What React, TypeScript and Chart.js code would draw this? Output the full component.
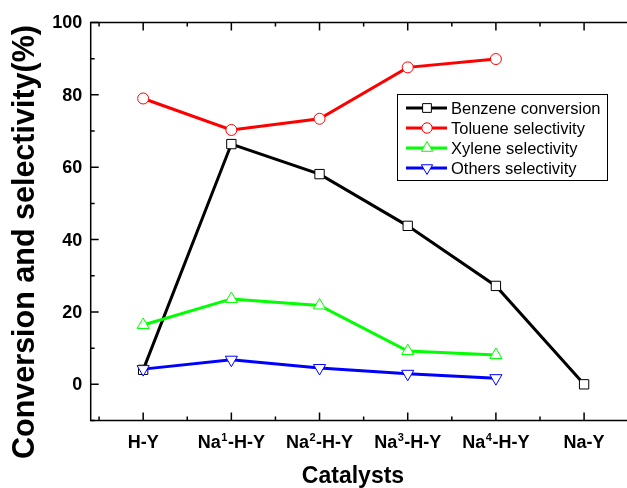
import React, { useEffect, useRef } from "react";
import { Chart, registerables } from "chart.js";
Chart.register(...registerables);

// ---- data ----
const categoryPositions = [1, 2, 3, 4, 5, 6];
const categoryBase = ["H-Y", "Na", "Na", "Na", "Na", "Na-Y"];
const categorySup = ["", "1", "2", "3", "4", ""];
const categoryRest = ["", "-H-Y", "-H-Y", "-H-Y", "-H-Y", ""];

const benzeneConversion = [4.0, 66.4, 58.1, 43.8, 27.2, 0];
const tolueneSelectivity = [79.0, 70.3, 73.4, 87.6, 89.9];
const xyleneSelectivity = [16.4, 23.6, 21.8, 9.2, 8.1];
const othersSelectivity = [4.2, 6.8, 4.5, 2.9, 1.7];

const yTicks = [0, 20, 40, 60, 80, 100];
const yMinorTicks = [-10, 10, 30, 50, 70, 90];
const xMinorTicks = [0.5, 1.5, 2.5, 3.5, 4.5, 5.5, 6.5];

const seriesNames = [
  "Benzene conversion",
  "Toluene selectivity",
  "Xylene selectivity",
  "Others selectivity",
];
const seriesColors = ["#000000", "#ff0000", "#00ff00", "#0000ff"];

const yTitle = "Conversion and selectivity(%)";
const xTitle = "Catalysts";

const FONT = '"Liberation Sans", Arial, sans-serif';

function toPoints(values: number[]) {
  return values.map((v, i) => ({ x: categoryPositions[i], y: v }));
}

function drawMarker(ctx: CanvasRenderingContext2D, kind: string, x: number, y: number, r: number, color: string) {
  ctx.save();
  ctx.beginPath();
  if (kind === "rect") {
    const s = Math.SQRT1_2 * r;
    ctx.rect(x - s, y - s, 2 * s, 2 * s);
  } else if (kind === "circle") {
    ctx.arc(x, y, r, 0, Math.PI * 2);
  } else if (kind === "tri" || kind === "triDown") {
    let rad = kind === "tri" ? 0 : Math.PI;
    ctx.moveTo(x + Math.sin(rad) * r, y - Math.cos(rad) * r);
    rad += (2 * Math.PI) / 3;
    ctx.lineTo(x + Math.sin(rad) * r, y - Math.cos(rad) * r);
    rad += (2 * Math.PI) / 3;
    ctx.lineTo(x + Math.sin(rad) * r, y - Math.cos(rad) * r);
    ctx.closePath();
  }
  ctx.fillStyle = "#ffffff";
  ctx.fill();
  ctx.lineWidth = 1;
  ctx.strokeStyle = color;
  ctx.stroke();
  ctx.restore();
}

const framePlugin = {
  id: "originFrame",
  beforeDatasetsDraw(chart: any) {
    const ctx: CanvasRenderingContext2D = chart.ctx;
    const { left, right, top, bottom } = chart.chartArea;
    const xs = chart.scales.x;
    const ys = chart.scales.y;
    ctx.save();
    ctx.strokeStyle = "#000";
    ctx.lineWidth = 1.5;
    ctx.strokeRect(left, top, right - left, bottom - top);

    ctx.beginPath();
    for (const v of yTicks) {
      const py = ys.getPixelForValue(v);
      ctx.moveTo(left, py);
      ctx.lineTo(left + 8, py);
      ctx.moveTo(right, py);
      ctx.lineTo(right - 8, py);
    }
    for (const v of yMinorTicks) {
      const py = ys.getPixelForValue(v);
      ctx.moveTo(left, py);
      ctx.lineTo(left + 4, py);
      ctx.moveTo(right, py);
      ctx.lineTo(right - 4, py);
    }
    for (const v of categoryPositions) {
      const px = xs.getPixelForValue(v);
      ctx.moveTo(px, bottom);
      ctx.lineTo(px, bottom - 8);
      ctx.moveTo(px, top);
      ctx.lineTo(px, top + 8);
    }
    for (const v of xMinorTicks) {
      const px = xs.getPixelForValue(v);
      ctx.moveTo(px, bottom);
      ctx.lineTo(px, bottom - 4);
      ctx.moveTo(px, top);
      ctx.lineTo(px, top + 4);
    }
    ctx.stroke();

    // y tick labels
    ctx.fillStyle = "#000";
    ctx.font = `bold 18px ${FONT}`;
    ctx.textAlign = "right";
    ctx.textBaseline = "middle";
    for (const v of yTicks) {
      ctx.fillText(String(v), left - 8.5, ys.getPixelForValue(v) + 1);
    }

    // x tick labels with superscripts
    ctx.textBaseline = "alphabetic";
    ctx.textAlign = "left";
    const base = `bold 18px ${FONT}`;
    const sup = `bold 11px ${FONT}`;
    categoryPositions.forEach((v, i) => {
      ctx.font = base;
      const w1 = ctx.measureText(categoryBase[i]).width;
      const w3 = ctx.measureText(categoryRest[i]).width;
      ctx.font = sup;
      const w2 = categorySup[i] ? ctx.measureText(categorySup[i]).width + 1 : 0;
      const total = w1 + w2 + w3;
      let x0 = xs.getPixelForValue(v) - total / 2;
      const by = 447.5;
      ctx.font = base;
      ctx.fillText(categoryBase[i], x0, by);
      x0 += w1;
      if (categorySup[i]) {
        ctx.font = sup;
        ctx.fillText(categorySup[i], x0 + 0.5, by - 6.5);
        x0 += w2;
      }
      ctx.font = base;
      ctx.fillText(categoryRest[i], x0, by);
    });

    // axis titles
    ctx.font = `bold 23px ${FONT}`;
    ctx.textAlign = "center";
    ctx.fillText(xTitle, 353, 483);

    ctx.save();
    ctx.translate(34, 242);
    ctx.rotate(-Math.PI / 2);
    ctx.font = `bold 30.5px ${FONT}`;
    ctx.textAlign = "center";
    ctx.textBaseline = "alphabetic";
    ctx.fillText(yTitle, 0, 0);
    ctx.restore();

    ctx.restore();
  },
  afterDraw(chart: any) {
    const ctx: CanvasRenderingContext2D = chart.ctx;
    ctx.save();
    const bx = 397.5, by = 94.5, bw = 210, bh = 86;
    ctx.fillStyle = "#fff";
    ctx.fillRect(bx, by, bw, bh);
    ctx.strokeStyle = "#000";
    ctx.lineWidth = 1;
    ctx.strokeRect(bx, by, bw, bh);
    const kinds = ["rect", "circle", "tri", "triDown"];
    const radii = [6.2, 5.2, 6.5, 6.5];
    ctx.font = `16.5px ${FONT}`;
    ctx.textBaseline = "middle";
    ctx.textAlign = "left";
    seriesNames.forEach((name, i) => {
      const cy = 108 + i * 20;
      ctx.strokeStyle = seriesColors[i];
      ctx.lineWidth = 3;
      ctx.beginPath();
      ctx.moveTo(406, cy);
      ctx.lineTo(447, cy);
      ctx.stroke();
      drawMarker(ctx, kinds[i], 427, cy, radii[i], seriesColors[i]);
      ctx.fillStyle = "#000";
      ctx.fillText(name, 451, cy + 1);
    });
    ctx.restore();
  },
};

export default function App() {
  const ref = useRef<HTMLCanvasElement | null>(null);
  useEffect(() => {
    if (!ref.current) return;
    const common = {
      borderWidth: 3,
      pointBorderWidth: 1,
      pointBackgroundColor: "#ffffff",
      tension: 0,
      fill: false,
    };
    const chart = new Chart(ref.current, {
      type: "line",
      data: {
        datasets: [
          {
            ...common,
            label: seriesNames[0],
            data: toPoints(benzeneConversion),
            borderColor: seriesColors[0],
            pointBorderColor: seriesColors[0],
            pointStyle: "rect",
            pointRadius: 6.6,
            order: 4,
          },
          {
            ...common,
            label: seriesNames[1],
            data: toPoints(tolueneSelectivity),
            borderColor: seriesColors[1],
            pointBorderColor: seriesColors[1],
            pointStyle: "circle",
            pointRadius: 5.5,
            order: 3,
          },
          {
            ...common,
            label: seriesNames[2],
            data: toPoints(xyleneSelectivity),
            borderColor: seriesColors[2],
            pointBorderColor: seriesColors[2],
            pointStyle: "triangle",
            pointRadius: 7,
            order: 2,
          },
          {
            ...common,
            label: seriesNames[3],
            data: toPoints(othersSelectivity),
            borderColor: seriesColors[3],
            pointBorderColor: seriesColors[3],
            pointStyle: "triangle",
            pointRotation: 180,
            pointRadius: 7,
            order: 1,
          },
        ],
      } as any,
      options: {
        animation: false,
        responsive: false,
        devicePixelRatio: 1,
        events: [],
        layout: { padding: { left: 90.7, top: 22.5, right: 7, bottom: 67.5 } },
        plugins: { legend: { display: false }, tooltip: { enabled: false } },
        scales: {
          x: { type: "linear", min: 0.405, max: 6.6, display: false },
          y: { type: "linear", min: -10, max: 100, display: false },
        },
      } as any,
      plugins: [framePlugin],
    });
    return () => chart.destroy();
  }, []);
  return (
    <div style={{ position: "fixed", left: 0, top: 0, width: 627, height: 488, overflow: "hidden", background: "#fff" }}>
      <canvas ref={ref} width={645} height={488} style={{ width: 645, height: 488, display: "block" }} />
    </div>
  );
}
